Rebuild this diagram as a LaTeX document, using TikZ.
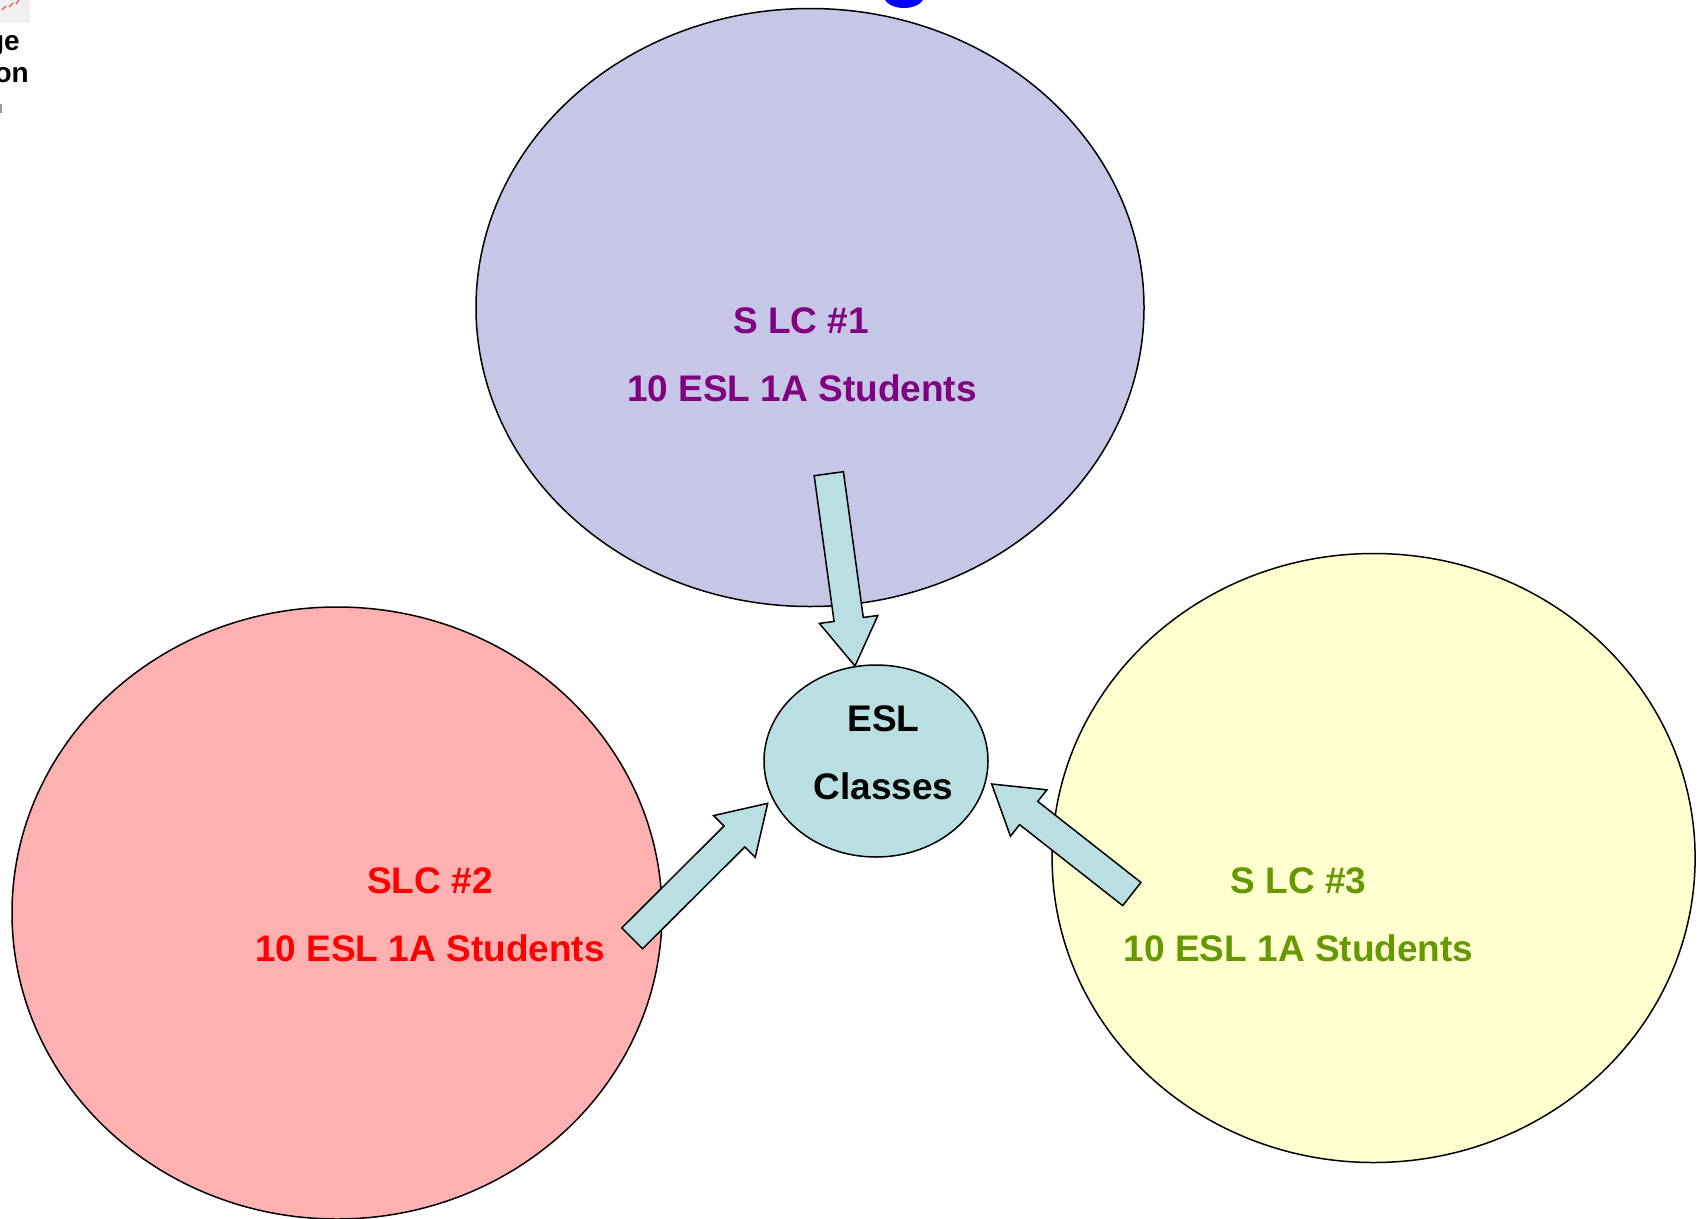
\documentclass[tikz,border=0pt]{standalone}
\usepackage{fontspec}
\setmainfont{Liberation Sans}
\usetikzlibrary{calc,shapes.geometric}
\definecolor{lilac}{HTML}{C6C6E6}
\definecolor{rose}{HTML}{FFB0B0}
\definecolor{cream}{HTML}{FFFFD0}
\definecolor{aqua}{HTML}{BADFE3}
\definecolor{plum}{HTML}{800080}
\definecolor{olive}{HTML}{669900}
\newcommand\blockarrow[2]{%
  \coordinate (#1b) at ($(#2)!47pt!(#1)$);
  \draw[arrowbox] ($(#1)!14.75pt!90:(#2)$) -- ($(#1b)!14.75pt!90:(#2)$)
    -- ($(#1b)!29.5pt!90:(#2)$) -- (#2) -- ($(#1b)!29.5pt!-90:(#2)$)
    -- ($(#1b)!14.75pt!-90:(#2)$) -- ($(#1)!14.75pt!-90:(#2)$) -- cycle;}
\begin{document}
\begin{tikzpicture}[x=1pt,y=-1pt,
  bubble/.style={ellipse,draw=black,line width=1.5pt,inner sep=0pt},
  arrowbox/.style={draw=black,line width=1.5pt,fill=aqua,line join=miter},
  lab/.style={anchor=base,inner sep=0pt,font=\fontsize{37}{44}\selectfont\bfseries},
  frag/.style={anchor=base east,inner sep=0pt,font=\fontsize{28}{32}\selectfont\bfseries}]
\useasboundingbox (0,0) rectangle (1704,1218);
\clip (0,0) rectangle (1704,1218);
% fragments at the edges
\fill[black!6] (0,0) rectangle (30,23);
\draw[red!70,line width=1.2pt] (2,10) -- (6,6) (9,7) -- (13,3) (16,4) -- (19,0);
\node[frag] (fg1) at (20,50) {ge};
\node[frag] (fg2) at (29,82) {on};
\fill[black!40] (0,104) rectangle (2,113);
\fill[blue] (904,-4) ellipse [x radius=20, y radius=12];
% bubbles
\node[bubble,fill=lilac,minimum width=668pt,minimum height=598pt] (c1) at (810,307.5) {};
\node[bubble,fill=rose,minimum width=650pt,minimum height=612pt] (c2) at (337,913) {};
\node[bubble,fill=cream,minimum width=643pt,minimum height=609pt] (c3) at (1373.6,858) {};
\node[bubble,fill=aqua,minimum width=224pt,minimum height=192pt] (esl) at (876,761) {};
% arrows
\coordinate (a1t) at (828.8,473.7);
\coordinate (a1p) at (855,666);
\coordinate (a2t) at (632.2,938.3);
\coordinate (a2p) at (767.7,803.3);
\coordinate (a3t) at (1131.8,894);
\coordinate (a3p) at (991.7,784);
\blockarrow{a1t}{a1p}
\blockarrow{a2t}{a2p}
\blockarrow{a3t}{a3p}
% labels
\node[lab,text=plum] (t1a) at (801,333) {S LC \#1};
\node[lab,text=plum] (t1b) at (802,401) {10 ESL 1A Students};
\node[lab,text=red] (t2a) at (430,893) {SLC \#2};
\node[lab,text=red] (t2b) at (430,961) {10 ESL 1A Students};
\node[lab,text=olive] (t3a) at (1298.6,893) {S LC \#3};
\node[lab,text=olive] (t3b) at (1298.6,961) {10 ESL 1A Students};
\node[lab,text=black] (t4a) at (883.5,731) {ESL};
\node[lab,text=black] (t4b) at (883.5,799) {Classes};
\end{tikzpicture}
\end{document}
